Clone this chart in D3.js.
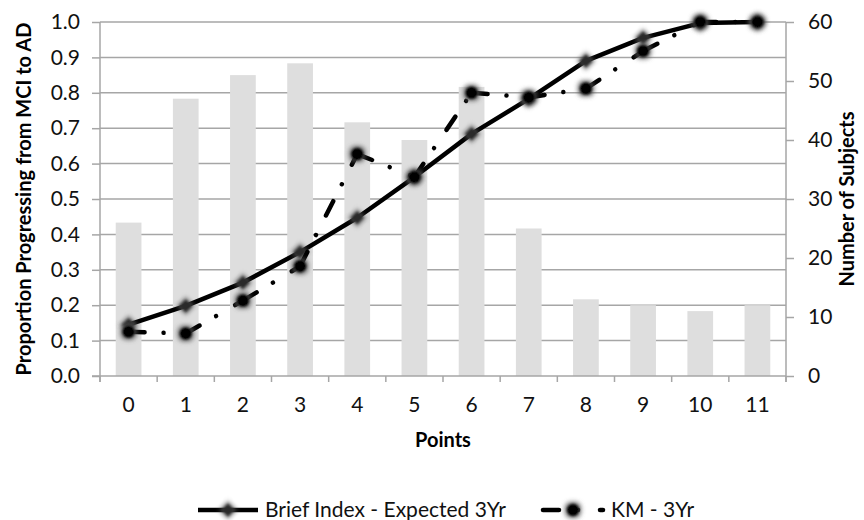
<!DOCTYPE html>
<html><head><meta charset="utf-8">
<script src="https://cdn.jsdelivr.net/npm/d3@7"></script>
<style>body{margin:0;background:#fff}svg{display:block;font-family:Lato,"Open Sans",sans-serif}</style>
</head><body>
<svg id="c" width="864" height="520"></svg>
<script>
const categories = ["0","1","2","3","4","5","6","7","8","9","10","11"];
const subjects = [26, 47, 51, 53, 43, 40, 49, 25, 13, 12, 11, 12];
const briefIndex = [0.145, 0.198, 0.264, 0.35, 0.447, 0.562, 0.684, 0.783, 0.89, 0.955, 0.997, 1.0];
const km3yr = [0.125, 0.12, 0.213, 0.31, 0.627, 0.562, 0.80, 0.787, 0.812, 0.918, 1.0, 1.0];
const leftTicks = [0,0.1,0.2,0.3,0.4,0.5,0.6,0.7,0.8,0.9,1.0];
const rightTicks = [0,10,20,30,40,50,60];
const seriesNames = ["Brief Index - Expected 3Yr", "KM - 3Yr"];

const svg = d3.select("#c");
const L = 100, R = 786, T = 22, B = 376;
const FS = 21, TFS = 20;
const x = d3.scaleBand().domain(categories).range([L, R]).padding(0);
const yL = d3.scaleLinear().domain([0, 1]).range([B, T]);
const yR = d3.scaleLinear().domain([0, 60]).range([B, T]);
const cx = d => x(d) + x.bandwidth() / 2;

const defs = svg.append("defs");
const f = defs.append("filter").attr("id","glow").attr("x","-100%").attr("y","-100%").attr("width","300%").attr("height","300%");
f.append("feMorphology").attr("operator","dilate").attr("radius",2).attr("in","SourceAlpha").attr("result","d");
f.append("feGaussianBlur").attr("in","d").attr("stdDeviation",2.2).attr("result","b");
f.append("feFlood").attr("flood-color","#555").attr("flood-opacity",0.7);
f.append("feComposite").attr("in2","b").attr("operator","in").attr("result","halo");
f.append("feGaussianBlur").attr("in","SourceGraphic").attr("stdDeviation",1).attr("result","s");
const fm = f.append("feMerge");
fm.append("feMergeNode").attr("in","halo");
fm.append("feMergeNode").attr("in","s");

const gridCol = "#a6a6a6";
svg.append("g").selectAll("line").data(leftTicks.filter(t => t > 0)).join("line")
  .attr("x1", L).attr("x2", R).attr("y1", d => yL(d)).attr("y2", d => yL(d))
  .attr("stroke", gridCol).attr("stroke-width", 1.5);

const bw = x.bandwidth() * 0.45;
svg.append("g").selectAll("rect").data(subjects).join("rect")
  .attr("x", (d, i) => cx(categories[i]) - bw / 2)
  .attr("width", bw)
  .attr("y", d => yR(d))
  .attr("height", d => B - yR(d))
  .attr("fill", "#dedede");

const axL = svg.append("g").attr("transform", `translate(${L},0)`)
  .call(d3.axisLeft(yL).tickValues(leftTicks).tickFormat(d3.format(".1f")).tickSize(8).tickPadding(12));
const axR = svg.append("g").attr("transform", `translate(${R},0)`)
  .call(d3.axisRight(yR).tickValues(rightTicks).tickSize(8).tickPadding(14));
const axB = svg.append("g").attr("transform", `translate(0,${B})`)
  .call(d3.axisBottom(x).tickSize(0).tickPadding(21));
svg.append("g").selectAll("line").data(categories.map(c => x(c)).concat([R])).join("line")
  .attr("x1", d => d).attr("x2", d => d).attr("y1", B).attr("y2", B + 6)
  .attr("stroke", gridCol).attr("stroke-width", 1.5);

[axL, axR, axB].forEach(a => {
  a.selectAll(".domain").attr("stroke", gridCol).attr("stroke-width", 1.5);
  a.selectAll(".tick line").attr("stroke", gridCol).attr("stroke-width", 1.5);
  a.selectAll("text").attr("font-family", "Lato").attr("font-size", FS).attr("fill", "#111");
});
axL.select(".domain").attr("d", `M0,${B+6}V${T}`);
axR.select(".domain").attr("d", `M0,${B+6}V${T}`);
axB.select(".domain").attr("d", `M${L-8},0H${R}`);

const line = d3.line().x(d => cx(d[0])).y(d => yL(d[1]));
const briefPts = categories.map((c, i) => [c, briefIndex[i]]);
const kmPts = categories.map((c, i) => [c, km3yr[i]]);
const diamond = d3.symbol(d3.symbolSquare, 85)();

svg.append("path").datum(briefPts).attr("d", line)
  .attr("fill", "none").attr("stroke", "#000").attr("stroke-width", 4.5).attr("stroke-linejoin", "round");
svg.append("g").selectAll("path").data(briefPts).join("path")
  .attr("d", diamond)
  .attr("transform", d => `translate(${cx(d[0])},${yL(d[1])}) rotate(45)`)
  .attr("fill", "#2a2a2a").attr("filter", "url(#glow)");

const dash = "16,19,0.01,22";
svg.append("g").selectAll("path").data(d3.pairs(kmPts)).join("path")
  .attr("d", d => line(d))
  .attr("fill", "none").attr("stroke", "#000").attr("stroke-width", 4.5)
  .attr("stroke-linecap", "round").attr("stroke-dasharray", dash);
svg.append("g").selectAll("circle").data(kmPts).join("circle")
  .attr("cx", d => cx(d[0])).attr("cy", d => yL(d[1])).attr("r", 6.5)
  .attr("fill", "#000").attr("filter", "url(#glow)");

svg.append("text").attr("transform", `translate(31,${(T+B)/2}) rotate(-90)`)
  .attr("text-anchor", "middle").attr("font-weight", "bold").attr("font-size", TFS)
  .text("Proportion Progressing from MCI to AD");
svg.append("text").attr("transform", `translate(854,${(T+B)/2}) rotate(-90)`)
  .attr("text-anchor", "middle").attr("font-weight", "bold").attr("font-size", TFS)
  .text("Number of Subjects");
svg.append("text").attr("x", (L+R)/2).attr("y", 447)
  .attr("text-anchor", "middle").attr("font-weight", "bold").attr("font-size", TFS)
  .text("Points");

const lg = svg.append("g");
const ly = 510;
lg.append("line").attr("x1", 198).attr("x2", 258).attr("y1", ly).attr("y2", ly)
  .attr("stroke", "#000").attr("stroke-width", 4.5);
lg.append("path").attr("d", diamond)
  .attr("transform", `translate(228,${ly}) rotate(45)`).attr("fill", "#2a2a2a").attr("filter", "url(#glow)");
lg.append("text").attr("x", 265).attr("y", ly + 7).attr("font-size", FS).attr("fill", "#111").text(seriesNames[0]);
lg.append("path").attr("d", `M543,${ly}H603`)
  .attr("stroke", "#000").attr("stroke-width", 4.5).attr("stroke-linecap", "round").attr("stroke-dasharray", dash);
lg.append("circle").attr("cx", 573).attr("cy", ly).attr("r", 6.5).attr("fill", "#000").attr("filter", "url(#glow)");
lg.append("text").attr("x", 611).attr("y", ly + 7).attr("font-size", FS).attr("fill", "#111").text(seriesNames[1]);
</script>
</body></html>
